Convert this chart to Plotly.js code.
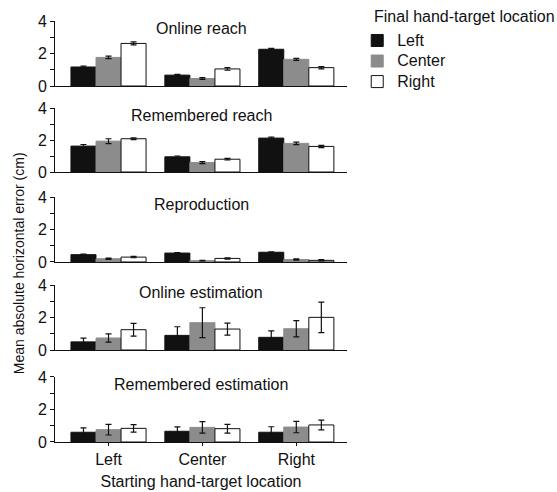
<!DOCTYPE html>
<html>
<head>
<meta charset="utf-8">
<script src="https://cdn.plot.ly/plotly-3.0.1.min.js"></script>
<style>html,body{margin:0;padding:0;background:#fff;}#chart{width:557px;height:492px;}</style>
</head>
<body>
<div id="chart"></div>
<script>
// Data
const categories = ['Left', 'Center', 'Right'];
const seriesNames = ['Left', 'Center', 'Right'];
const legendTitle = 'Final hand-target location';
const panelTitles = ['Online reach', 'Remembered reach', 'Reproduction', 'Online estimation', 'Remembered estimation'];

// values[series][category]
const onlineReach      = [[1.17, 0.67, 2.26], [1.76, 0.46, 1.64], [2.62, 1.05, 1.13]];
const onlineReachErr   = [[0.05, 0.04, 0.05], [0.08, 0.05, 0.06], [0.09, 0.08, 0.07]];
const rememberedReach    = [[1.62, 0.95, 2.12], [1.93, 0.59, 1.79], [2.08, 0.80, 1.60]];
const rememberedReachErr = [[0.10, 0.05, 0.06], [0.15, 0.06, 0.08], [0.06, 0.05, 0.07]];
const reproduction     = [[0.45, 0.55, 0.60], [0.20, 0.08, 0.15], [0.30, 0.22, 0.10]];
const reproductionErr  = [[0.03, 0.03, 0.03], [0.04, 0.02, 0.04], [0.04, 0.04, 0.04]];
const onlineEst        = [[0.50, 0.90, 0.78], [0.74, 1.68, 1.31], [1.25, 1.29, 2.01]];
const onlineEstErr     = [[0.23, 0.53, 0.40], [0.25, 0.92, 0.50], [0.39, 0.37, 0.94]];
const rememberedEst    = [[0.60, 0.66, 0.60], [0.76, 0.90, 0.92], [0.84, 0.82, 1.05]];
const rememberedEstErr = [[0.27, 0.27, 0.34], [0.33, 0.35, 0.35], [0.23, 0.27, 0.30]];

const yTickVals = [0, 1, 2, 3, 4];
const yTickText = ['0', '', '2', '', '4'];

const panels = [
  [onlineReach, onlineReachErr],
  [rememberedReach, rememberedReachErr],
  [reproduction, reproductionErr],
  [onlineEst, onlineEstErr],
  [rememberedEst, rememberedEstErr]
];

const fillColors = ['#111111', '#8c8c8c', '#ffffff'];
const lineColors = ['#111111', '#8c8c8c', '#111111'];

const domains = [
  [0.8456, 1.0],
  [0.6413, 0.7933],
  [0.4276, 0.5819],
  [0.2185, 0.3729],
  [0.0, 0.1544]
];

const traces = [];
panels.forEach((p, i) => {
  const ax = i === 0 ? '' : String(i + 1);
  for (let s = 0; s < 3; s++) {
    traces.push({
      type: 'bar',
      x: categories,
      y: p[0][s],
      name: '<span style="font-size:16px">' + seriesNames[s] + '</span>',
      legendgroup: seriesNames[s],
      showlegend: i === 0,
      xaxis: 'x' + ax,
      yaxis: 'y' + ax,
      marker: {color: fillColors[s], line: {color: lineColors[s], width: 1}},
      error_y: {type: 'data', array: p[1][s], visible: true, color: '#111', thickness: 1.2, width: 3}
    });
  }
});

const family = 'Liberation Sans, Arial, sans-serif';
const font = {family: family, size: 16, color: '#111'};
const layout = {
  width: 557, height: 492,
  margin: {l: 55, r: 210, t: 21, b: 50, autoexpand: false},
  paper_bgcolor: '#fff', plot_bgcolor: '#fff',
  font: font,
  barmode: 'group', bargap: 0.2, bargroupgap: 0,
  showlegend: true,
  legend: {
    x: 1.035, y: 0.99, xanchor: 'left', yanchor: 'top',
    font: {family: family, size: 13.5, color: '#111'}, tracegroupgap: 0, itemwidth: 30,
    bgcolor: 'rgba(0,0,0,0)'
  },
  annotations: [],
};

panelTitles.forEach((t, i) => {
  const ax = i === 0 ? '' : String(i + 1);
  layout['xaxis' + ax] = {
    anchor: 'y' + ax,
    domain: [0, 1],
    range: [-0.57, 2.54],
    showline: true, linecolor: '#111', linewidth: 1,
    ticks: i === 4 ? 'outside' : '', ticklen: 3, tickcolor: '#111',
    showticklabels: i === 4,
    tickfont: font,
    showgrid: false, zeroline: false,
    fixedrange: true,
    title: i === 4 ? {text: 'Starting hand-target location', font: font, standoff: 8} : undefined
  };
  if (i > 0) layout['xaxis' + ax].matches = 'x';
  layout['yaxis' + ax] = {
    anchor: 'x' + ax,
    domain: domains[i],
    range: [0, 4],
    tickmode: 'array', tickvals: yTickVals, ticktext: yTickText,
    ticks: 'outside', ticklen: 4, tickcolor: '#111',
    showline: true, linecolor: '#111', linewidth: 1,
    showgrid: false, zeroline: false,
    tickfont: font,
    fixedrange: true
  };
  layout.annotations.push({
    text: t, xref: 'x' + ax + ' domain', yref: 'y' + ax + ' domain',
    x: 0.5, y: 0.89, xanchor: 'center', yanchor: 'middle',
    showarrow: false, font: font
  });
});

layout.annotations.push({
  text: legendTitle, xref: 'paper', yref: 'paper',
  x: 1.085, y: 1.01, xanchor: 'left', yanchor: 'middle',
  showarrow: false, font: font
});

layout.annotations.push({
  text: 'Mean absolute horizontal error (cm)',
  xref: 'paper', yref: 'paper', x: -0.123, y: 0.425,
  xanchor: 'center', yanchor: 'middle', textangle: -90,
  showarrow: false, font: {family: family, size: 14, color: '#111'}
});

Plotly.newPlot('chart', traces, layout, {displayModeBar: false, staticPlot: true});
</script>
</body>
</html>
